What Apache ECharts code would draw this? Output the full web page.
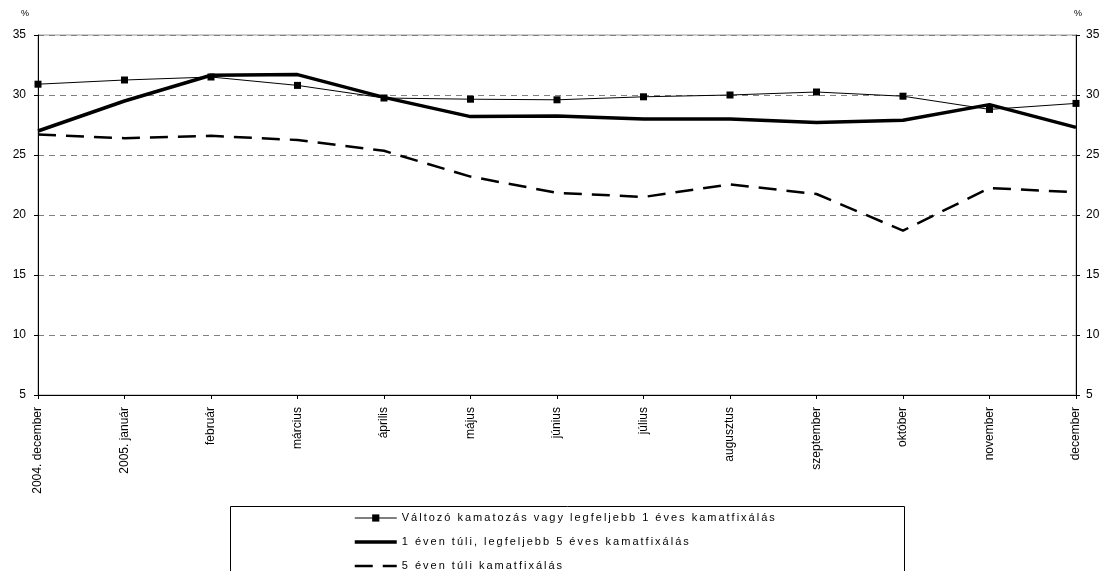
<!DOCTYPE html>
<html>
<head>
<meta charset="utf-8">
<script src="https://cdn.jsdelivr.net/npm/echarts@6/dist/echarts.min.js"></script>
<style>html,body{margin:0;padding:0;background:#fff}#c{width:1110px;height:571px}</style>
</head>
<body>
<div id="c"></div>
<script>
const categories = ['2004. december','2005. január','február','március','április','május','június','július','augusztus','szeptember','október','november','december'];
const seriesNames = ['Változó kamatozás vagy legfeljebb 1 éves kamatfixálás','1 éven túli, legfeljebb 5 éves kamatfixálás','5 éven túli kamatfixálás'];
const variableRate = [30.9, 31.25, 31.5, 30.8, 29.75, 29.65, 29.6, 29.85, 30.0, 30.25, 29.9, 28.8, 29.3];
const fix1to5 = [27.0, 29.5, 31.65, 31.7, 29.8, 28.2, 28.25, 28.0, 28.0, 27.7, 27.9, 29.2, 27.3];
const fixOver5 = [26.7, 26.4, 26.6, 26.25, 25.35, 23.2, 21.85, 21.5, 22.55, 21.75, 18.7, 22.25, 21.9];
const yMin = 5, yMax = 35, yStep = 5;

// The reference legend text is letter-spaced; apply the same spacing when the canvas draws it.
(function () {
  const proto = CanvasRenderingContext2D.prototype;
  const origFill = proto.fillText;
  proto.fillText = function (t, x, y, w) {
    if (seriesNames.indexOf(t) >= 0 && 'letterSpacing' in this) {
      const old = this.letterSpacing;
      this.letterSpacing = '2px';
      const r = w === undefined ? origFill.call(this, t, x, y) : origFill.call(this, t, x, y, w);
      this.letterSpacing = old;
      return r;
    }
    return w === undefined ? origFill.call(this, t, x, y) : origFill.call(this, t, x, y, w);
  };
})();

const font = 'Liberation Sans, Arial, sans-serif';
const chart = echarts.init(document.getElementById('c'), null, {renderer: 'canvas'});
const yAxisCommon = {
  type: 'value', min: yMin, max: yMax, interval: yStep,
  axisLine: {show: true, lineStyle: {color: '#000', width: 1}},
  axisTick: {show: true, inside: false, length: 4, lineStyle: {color: '#000'}},
  axisLabel: {color: '#000', fontSize: 12, fontFamily: font}
};
const hiddenSymbol = {color: 'rgba(0,0,0,0)', borderWidth: 0, opacity: 0};
chart.setOption({
  animation: false,
  backgroundColor: '#fff',
  grid: {left: 38, right: 34, top: 35, bottom: 176, show: true, borderColor: '#9a9a9a', borderWidth: 1},
  xAxis: {
    type: 'category', data: categories, boundaryGap: false,
    axisLine: {lineStyle: {color: '#000', width: 1}},
    axisTick: {show: true, length: 4, lineStyle: {color: '#000'}},
    axisLabel: {rotate: 90, margin: 12, color: '#000', fontSize: 12, fontFamily: font, interval: 0},
    splitLine: {show: false}
  },
  yAxis: [
    Object.assign({}, yAxisCommon, {
      position: 'left',
      axisLabel: Object.assign({}, yAxisCommon.axisLabel, {margin: 12}),
      splitLine: {show: true, lineStyle: {color: '#808080', width: 1, type: [6, 5]}}
    }),
    Object.assign({}, yAxisCommon, {
      position: 'right',
      axisLabel: Object.assign({}, yAxisCommon.axisLabel, {margin: 10}),
      splitLine: {show: false}
    })
  ],
  legend: {
    orient: 'vertical', left: 353, top: 512, height: 80, padding: 0,
    itemWidth: 42, itemHeight: 9, itemGap: 12,
    textStyle: {color: '#000', fontSize: 11, lineHeight: 12, fontFamily: font},
    data: [
      {name: seriesNames[0], lineStyle: {width: 1, color: '#000', type: 'solid'}, itemStyle: {color: '#000'}},
      {name: seriesNames[1], lineStyle: {width: 3.5, color: '#000', type: 'solid'}, itemStyle: hiddenSymbol},
      {name: seriesNames[2], lineStyle: {width: 2.5, color: '#000', type: [18, 10]}, itemStyle: hiddenSymbol}
    ]
  },
  graphic: [
    {type: 'rect', left: 228, top: 504, shape: {width: 674, height: 100}, style: {fill: 'none', stroke: '#000', lineWidth: 1}, silent: true, z: -1},
    {type: 'text', left: 21, top: 9, style: {text: '%', fontSize: 9, fontFamily: font, fill: '#000'}},
    {type: 'text', left: 1074, top: 9, style: {text: '%', fontSize: 9, fontFamily: font, fill: '#000'}}
  ],
  series: [
    {name: seriesNames[0], type: 'line', data: variableRate, yAxisIndex: 0,
     symbol: 'rect', symbolSize: 7, showSymbol: true,
     itemStyle: {color: '#000'}, lineStyle: {color: '#000', width: 1}, z: 3},
    {name: seriesNames[1], type: 'line', data: fix1to5, yAxisIndex: 0,
     symbol: 'none', lineStyle: {color: '#000', width: 3.5}, itemStyle: {color: '#000'}, z: 2},
    {name: seriesNames[2], type: 'line', data: fixOver5, yAxisIndex: 0,
     symbol: 'none', lineStyle: {color: '#000', width: 2.5, type: [18, 10]}, itemStyle: {color: '#000'}, z: 2}
  ]
});
</script>
</body>
</html>
